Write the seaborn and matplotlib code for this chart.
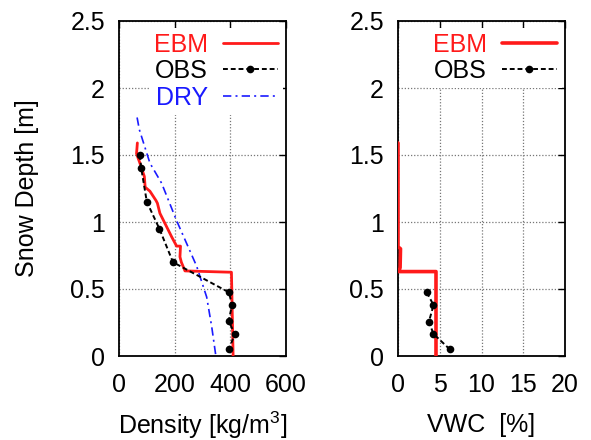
import numpy as np
import pandas as pd
import matplotlib
matplotlib.use("Agg")
import matplotlib.pyplot as plt
import seaborn as sns

# ---- data ----
obs_depth = [1.50, 1.40, 1.15, 0.95, 0.70, 0.475, 0.38, 0.26, 0.165, 0.05]
obs_density = [75, 80, 100, 145, 194, 395, 406, 394, 416, 395]
obs_vwc_depth = [0.475, 0.38, 0.255, 0.165, 0.05]
obs_vwc = [3.45, 4.25, 3.7, 4.25, 6.2]

ebm_depth = [1.59, 1.51, 1.44, 1.34, 1.26, 1.23, 1.16, 1.14, 1.065, 0.99, 0.89,
             0.82, 0.82, 0.74, 0.70, 0.635, 0.625, 0.0]
ebm_density = [66, 63, 75, 91, 94, 111, 133, 138, 147, 165, 189,
               207, 221, 219, 224, 237, 404, 410]

dry_depth = [1.78, 1.69, 1.44, 1.29, 1.01, 0.67, 0.44, 0.22, 0.0]
dry_density = [65, 73, 111, 153, 207, 279, 315, 333, 348]

ebm_vwc_depth = [1.59, 0.815, 0.80, 0.66, 0.63, 0.63, 0.0]
ebm_vwc = [0.0, 0.0, 0.3, 0.25, 0.1, 4.55, 4.55]

x1_ticks = [0, 200, 400, 600]
x2_ticks = [0, 5, 10, 15, 20]
y_ticks = [0, 0.5, 1, 1.5, 2, 2.5]
y_ticklabels = ["0", "0.5", "1", "1.5", "2", "2.5"]

sns.set_theme(style="white")
plt.rcParams['font.family'] = ['Liberation Sans', 'DejaVu Sans']
plt.rcParams['mathtext.fontset'] = 'custom'
plt.rcParams['mathtext.rm'] = 'Liberation Sans'
plt.rcParams['mathtext.it'] = 'Liberation Sans'

fig = plt.figure(figsize=(5.91, 4.40), dpi=100)
W, H = 591, 440
ax1 = fig.add_axes([119 / W, 1 - 356 / H, 167 / W, 335 / H])
ax2 = fig.add_axes([398 / W, 1 - 356 / H, 167 / W, 335 / H])

FS = 18

df_ebm = pd.DataFrame({"x": ebm_density, "y": ebm_depth})
df_obs = pd.DataFrame({"x": obs_density, "y": obs_depth})
df_dry = pd.DataFrame({"x": dry_density, "y": dry_depth})
df_ebm2 = pd.DataFrame({"x": ebm_vwc, "y": ebm_vwc_depth})
df_obs2 = pd.DataFrame({"x": obs_vwc, "y": obs_vwc_depth})

sns.lineplot(data=df_ebm, x="x", y="y", sort=False, estimator=None, ax=ax1,
             color="#ff1a1a", lw=2.0, label="EBM", zorder=4)
sns.lineplot(data=df_obs, x="x", y="y", sort=False, estimator=None, ax=ax1,
             color="black", lw=1.4, ls=(0, (2.5, 1.5)), marker="o", markersize=5.5,
             markeredgewidth=0, label="OBS", zorder=5)
sns.lineplot(data=df_dry, x="x", y="y", sort=False, estimator=None, ax=ax1,
             color="#1a1aff", lw=1.2, ls=(0, (5, 2.5, 1.2, 2.5)), label="DRY", zorder=3)

sns.lineplot(data=df_ebm2, x="x", y="y", sort=False, estimator=None, ax=ax2,
             color="#ff1a1a", lw=2.6, label="EBM", zorder=4)
sns.lineplot(data=df_obs2, x="x", y="y", sort=False, estimator=None, ax=ax2,
             color="black", lw=1.4, ls=(0, (2.5, 1.5)), marker="o", markersize=5.5,
             markeredgewidth=0, label="OBS", zorder=5)

for ax, xt, xlim in [(ax1, x1_ticks, (0, 600)), (ax2, x2_ticks, (0, 20))]:
    ax.set_xlim(*xlim)
    ax.set_ylim(0, 2.5)
    ax.set_xticks(xt)
    ax.set_xticklabels([str(v) for v in xt])
    ax.set_yticks(y_ticks)
    ax.set_yticklabels(y_ticklabels)
    ax.grid(True, color="#777777", ls=(0, (1, 1.5)), lw=0.9)
    ax.tick_params(axis="both", direction="in", length=5, width=1, color="black",
                   top=True, right=True, labelsize=FS, labelcolor="black")
    ax.tick_params(axis="x", pad=12)
    ax.tick_params(axis="y", pad=10)
    for s in ax.spines.values():
        s.set_visible(True)
        s.set_color("black")
        s.set_linewidth(1.3)
    ax.set_facecolor("white")

ax1.set_xlabel(r"Density [kg/m$^{3}$]", fontsize=FS, color="black")
ax2.set_xlabel("VWC  [%]", fontsize=FS, color="black")
ax1.set_ylabel("Snow Depth [m]", fontsize=FS, color="black")
ax2.set_ylabel("")
ax1.xaxis.set_label_coords(0.5, -0.16)
ax2.xaxis.set_label_coords(0.5, -0.17)
ax1.yaxis.set_label_coords(-0.48, 0.5)

common = dict(loc="upper right", bbox_to_anchor=(0.98, 0.98), markerfirst=False,
              fontsize=FS, frameon=True, framealpha=1, edgecolor="white", fancybox=False,
              handlelength=2.2, handletextpad=0.6, labelspacing=0.1,
              borderpad=0.2, borderaxespad=0.0)
leg1 = ax1.legend(labelcolor=["#ff1a1a", "black", "#1a1aff"], **common)
leg1.get_frame().set_linewidth(0)
leg2 = ax2.legend(labelcolor=["#ff1a1a", "black"], **common)
leg2.get_frame().set_linewidth(0)

fig.savefig("out.png", dpi=100, facecolor="white")
